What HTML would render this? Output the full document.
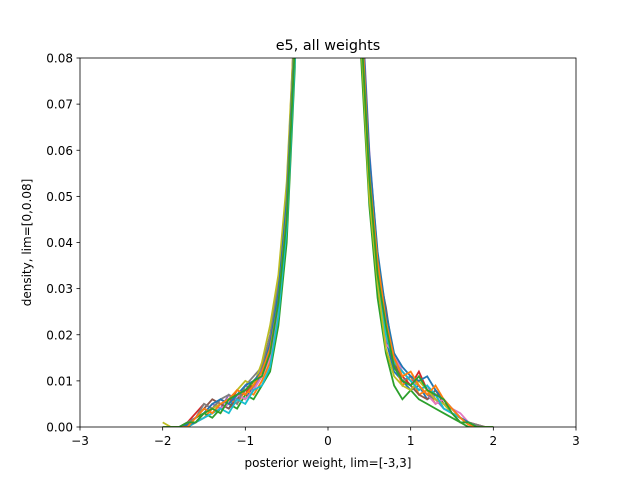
<!DOCTYPE html>
<html><head><meta charset="utf-8"><style>
body{margin:0;background:#fff;}
svg text{font-family:"DejaVu Sans","Liberation Sans",sans-serif;}
</style></head><body>
<svg id="chart" width="640" height="480" viewBox="0 0 640 480">
<rect width="640" height="480" fill="#fff"/>
<text x="328" y="50" font-size="14.4" text-anchor="middle">e5, all weights</text>
<defs><clipPath id="clip"><rect x="80" y="58" width="496" height="369"/></clipPath></defs>
<g id="lines" clip-path="url(#clip)"></g>
<rect x="80" y="58" width="496" height="369" fill="none" stroke="#000" stroke-width="0.8"/>
<g id="xt"></g>
<g id="yt"></g>
<text x="328" y="467" font-size="12" text-anchor="middle">posterior weight, lim=[-3,3]</text>
<text transform="translate(31,242.5) rotate(-90)" font-size="12" text-anchor="middle">density, lim=[0,0.08]</text>
</svg>
<script>
const xGrid=[-2.0,-1.9,-1.8,-1.7,-1.6,-1.5,-1.4,-1.3,-1.2,-1.1,-1.0,-0.9,-0.8,-0.7,-0.6,-0.5,-0.4,-0.3,0.3,0.4,0.5,0.6,0.7,0.8,0.9,1.0,1.1,1.2,1.3,1.4,1.5,1.6,1.7,1.8,1.9,2.0];
const s0=[0,0,0,0.001,0.002,0.004,0.003,0.005,0.004,0.007,0.006,0.009,0.011,0.016,0.028,0.047,0.085,0.2,0.2,0.085,0.052,0.032,0.019,0.012,0.01,0.008,0.009,0.006,0.007,0.004,0.003,0.002,0.001,0,0,0];
const s1=[0,0,0,0,0.001,0.002,0.004,0.003,0.006,0.005,0.008,0.007,0.01,0.014,0.025,0.044,0.08,0.2,0.2,0.088,0.055,0.03,0.02,0.014,0.009,0.011,0.007,0.008,0.005,0.006,0.003,0.002,0.001,0.0005,0,0];
const s2=[0,0,0,0.0005,0.002,0.003,0.002,0.004,0.005,0.004,0.007,0.006,0.009,0.012,0.022,0.04,0.078,0.2,0.2,0.08,0.048,0.028,0.016,0.009,0.006,0.008,0.006,0.005,0.004,0.003,0.002,0.001,0,0,0,0];
const s3=[0,0,0,0.001,0.003,0.005,0.004,0.006,0.005,0.008,0.007,0.01,0.012,0.017,0.03,0.05,0.09,0.2,0.2,0.09,0.054,0.034,0.021,0.013,0.011,0.009,0.012,0.008,0.006,0.005,0.004,0.002,0.001,0,0,0];
const s4=[0,0,0,0,0.001,0.003,0.005,0.004,0.007,0.006,0.009,0.008,0.013,0.019,0.032,0.052,0.087,0.2,0.2,0.095,0.06,0.037,0.024,0.015,0.012,0.01,0.008,0.009,0.006,0.004,0.003,0.002,0.001,0,0,0];
const s5=[0,0,0,0.0005,0.002,0.004,0.006,0.005,0.004,0.006,0.008,0.009,0.012,0.018,0.029,0.048,0.083,0.2,0.2,0.087,0.058,0.035,0.026,0.014,0.01,0.009,0.007,0.006,0.008,0.005,0.003,0.001,0.001,0.0005,0,0];
const s6=[0,0,0,0,0.001,0.002,0.003,0.004,0.005,0.007,0.006,0.008,0.011,0.015,0.026,0.045,0.082,0.2,0.2,0.086,0.053,0.033,0.018,0.016,0.012,0.01,0.009,0.007,0.005,0.006,0.004,0.003,0.001,0,0,0];
const s7=[0,0,0,0.001,0.002,0.005,0.004,0.006,0.007,0.005,0.009,0.011,0.013,0.02,0.031,0.05,0.088,0.2,0.2,0.092,0.057,0.036,0.022,0.013,0.01,0.011,0.009,0.007,0.006,0.005,0.004,0.002,0.001,0.0005,0,0];
const s8=[0.001,0,0,0,0.001,0.003,0.004,0.005,0.006,0.008,0.01,0.009,0.014,0.022,0.033,0.053,0.089,0.2,0.2,0.084,0.05,0.031,0.017,0.011,0.009,0.008,0.01,0.008,0.006,0.005,0.003,0.002,0.001,0,0,0];
const s9=[0,0,0,0,0.001,0.002,0.003,0.004,0.003,0.006,0.005,0.008,0.009,0.013,0.024,0.043,0.08,0.2,0.2,0.089,0.056,0.034,0.02,0.014,0.012,0.01,0.008,0.009,0.007,0.004,0.003,0.002,0.001,0,0,0];
const s10=[0,0,0,0.0005,0.001,0.003,0.005,0.006,0.005,0.007,0.009,0.01,0.012,0.018,0.029,0.049,0.086,0.2,0.2,0.093,0.059,0.038,0.025,0.016,0.013,0.011,0.01,0.011,0.008,0.006,0.004,0.002,0.001,0,0,0];
const s11=[0,0,0,0,0.002,0.004,0.003,0.005,0.006,0.008,0.007,0.009,0.012,0.017,0.027,0.046,0.084,0.2,0.2,0.091,0.055,0.036,0.023,0.015,0.011,0.012,0.009,0.007,0.009,0.006,0.004,0.002,0.0005,0,0,0];
const s12=[0,0,0,0.001,0.001,0.003,0.004,0.003,0.006,0.007,0.008,0.01,0.011,0.016,0.027,0.045,0.083,0.2,0.2,0.087,0.054,0.033,0.022,0.013,0.01,0.009,0.011,0.008,0.007,0.006,0.003,0.001,0.001,0,0,0];
const seriesList=[s0,s1,s2,s3,s4,s5,s6,s7,s8,s9,s10,s11,s12];
const colors=["#1f77b4","#ff7f0e","#2ca02c","#d62728","#9467bd","#8c564b","#e377c2","#7f7f7f","#bcbd22","#17becf"];
const xTicks=[-3,-2,-1,0,1,2,3];
const yTicks=[0,0.01,0.02,0.03,0.04,0.05,0.06,0.07,0.08];
const yTickLabels=["0.00","0.01","0.02","0.03","0.04","0.05","0.06","0.07","0.08"];
const NS="http://www.w3.org/2000/svg";
const xS=v=>80+(v+3)/6*496;
const yS=v=>427-v/0.08*369;
const lg=document.getElementById('lines');
seriesList.forEach((s,i)=>{
  const p=document.createElementNS(NS,'path');
  p.setAttribute('d',s.map((v,j)=>(j?'L':'M')+xS(xGrid[j]).toFixed(1)+','+yS(v).toFixed(1)).join(''));
  p.setAttribute('fill','none');p.setAttribute('stroke',colors[i%10]);p.setAttribute('stroke-width','1.8');
  
  
  lg.appendChild(p);
});
const xt=document.getElementById('xt');
xTicks.forEach(t=>{
  const x=xS(t);
  const l=document.createElementNS(NS,'line');
  l.setAttribute('x1',x);l.setAttribute('x2',x);l.setAttribute('y1',427);l.setAttribute('y2',430.5);l.setAttribute('stroke','#000');l.setAttribute('stroke-width','0.8');
  
  
  xt.appendChild(l);
  const tx=document.createElementNS(NS,'text');
  tx.setAttribute('x',x);tx.setAttribute('y',445);tx.setAttribute('font-size','12');tx.setAttribute('text-anchor','middle');
  tx.textContent=(t<0?'\u2212'+(-t):''+t);
  
  
  xt.appendChild(tx);
});
const yt=document.getElementById('yt');
yTicks.forEach((t,i)=>{
  const y=yS(t);
  const l=document.createElementNS(NS,'line');
  l.setAttribute('x1',76.5);l.setAttribute('x2',80);l.setAttribute('y1',y);l.setAttribute('y2',y);l.setAttribute('stroke','#000');l.setAttribute('stroke-width','0.8');
  
  
  yt.appendChild(l);
  const tx=document.createElementNS(NS,'text');
  tx.setAttribute('x',73);tx.setAttribute('y',y+4.5);tx.setAttribute('font-size','12');tx.setAttribute('text-anchor','end');
  tx.textContent=yTickLabels[i];
  
  
  yt.appendChild(tx);
});
</script>
</body></html>
